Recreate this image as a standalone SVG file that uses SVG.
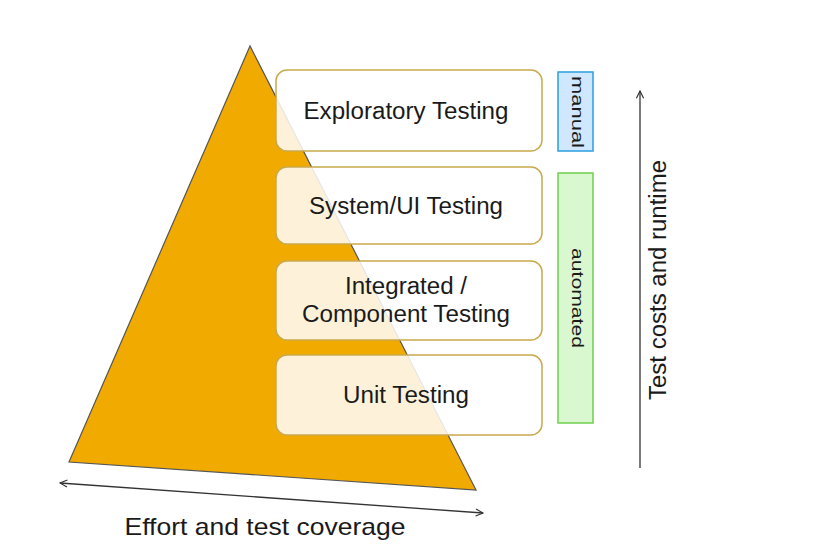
<svg xmlns="http://www.w3.org/2000/svg" width="816" height="558" viewBox="0 0 816 558">
<defs>
<marker id="ah" viewBox="0 0 10 10" refX="9" refY="5" markerWidth="9" markerHeight="9" orient="auto-start-reverse" markerUnits="userSpaceOnUse">
<path d="M1,1 L9,5 L1,9" fill="none" stroke="#333" stroke-width="1.3"/>
</marker>
<style>
.lvl{fill:#ffffff;fill-opacity:0.85;stroke:#c9a94e;stroke-width:1.5}
.t{font-family:"Liberation Sans",Arial,sans-serif;fill:#1a1a1a;text-anchor:middle}
.conn{stroke:#333;stroke-width:1.3;fill:none}
</style>
</defs>
<rect width="816" height="558" fill="#ffffff"/>
<g id="pyramid">
<polygon points="250,46 69,462 476,490" fill="#f0aa00" stroke="#555" stroke-width="1.2"/>
</g>
<g id="exploratory">
<rect class="lvl" x="276" y="70" width="266" height="81" rx="11"/>
<text class="t" x="406" y="119" font-size="23" textLength="205" lengthAdjust="spacingAndGlyphs">Exploratory Testing</text>
</g>
<g id="system">
<rect class="lvl" x="276" y="167" width="266" height="77" rx="11"/>
<text class="t" x="406" y="214" font-size="23" textLength="194" lengthAdjust="spacingAndGlyphs">System/UI Testing</text>
</g>
<g id="integrated">
<rect class="lvl" x="276" y="261" width="266" height="79" rx="11"/>
<text class="t" x="406" y="294" font-size="23" textLength="122" lengthAdjust="spacingAndGlyphs">Integrated /</text>
<text class="t" x="406" y="322" font-size="23" textLength="208" lengthAdjust="spacingAndGlyphs">Component Testing</text>
</g>
<g id="unit">
<rect class="lvl" x="276" y="355" width="266" height="80" rx="11"/>
<text class="t" x="406" y="403" font-size="23" textLength="126" lengthAdjust="spacingAndGlyphs">Unit Testing</text>
</g>
<g id="manual">
<rect x="558" y="72" width="35" height="79" fill="#cfe8ff" stroke="#2a9fe0" stroke-width="1.5"/>
<text class="t" font-size="17" transform="translate(572,112) rotate(90)" textLength="72" lengthAdjust="spacingAndGlyphs">manual</text>
</g>
<g id="automated">
<rect x="558" y="173" width="35" height="250" fill="#daf8cf" stroke="#6fcf4f" stroke-width="1.5"/>
<text class="t" font-size="17" transform="translate(572,298) rotate(90)" textLength="100" lengthAdjust="spacingAndGlyphs">automated</text>
</g>
<g id="connectors">
<line class="conn" x1="640" y1="468" x2="640" y2="91" marker-end="url(#ah)"/>
<line class="conn" x1="60" y1="483" x2="483" y2="513" marker-start="url(#ah)" marker-end="url(#ah)"/>
</g>
<text class="t" font-size="23" transform="translate(666,280) rotate(-90)" textLength="240" lengthAdjust="spacingAndGlyphs">Test costs and runtime</text>
<text class="t" x="265" y="535" font-size="24" textLength="281" lengthAdjust="spacingAndGlyphs">Effort and test coverage</text>
</svg>
